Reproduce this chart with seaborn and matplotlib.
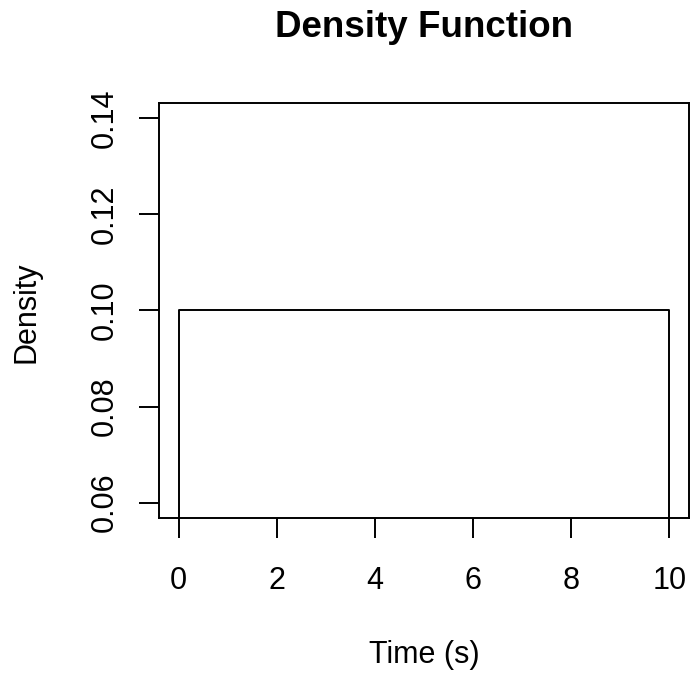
import matplotlib
matplotlib.use('Agg')
import matplotlib.pyplot as plt
import seaborn as sns
import pandas as pd

# Uniform density on [0, 10]
time_s = [0, 0, 10, 10]
density = [0, 0.1, 0.1, 0]
x_ticks = [0, 2, 4, 6, 8, 10]
y_ticks = [0.06, 0.08, 0.10, 0.12, 0.14]

df = pd.DataFrame({'time': time_s, 'density': density})

sns.set_theme(style='white')
plt.rcParams['font.family'] = ['Liberation Sans', 'DejaVu Sans']
plt.rcParams['text.color'] = 'black'
plt.rcParams['axes.labelcolor'] = 'black'
plt.rcParams['xtick.color'] = 'black'
plt.rcParams['ytick.color'] = 'black'

fig = plt.figure(figsize=(6.9, 6.75), dpi=100)
ax = fig.add_axes([159 / 690, 157 / 675, 530 / 690, 415 / 675])

sns.lineplot(data=df, x='time', y='density', sort=False, estimator=None,
             color='black', linewidth=1.4, ax=ax)

ax.set_xlim(-0.4, 10.4)
ax.set_ylim(0.0568, 0.1432)
ax.set_xticks(x_ticks)
ax.set_xticklabels([str(t) for t in x_ticks])
ax.set_yticks(y_ticks)
ax.set_yticklabels([f'{t:.2f}' for t in y_ticks], rotation=90, va='center')

for s in ax.spines.values():
    s.set_color('black')
    s.set_linewidth(1.4)

ax.tick_params(axis='both', direction='out', length=14.4, width=1.4,
               color='black', labelsize=22, labelcolor='black')
ax.tick_params(axis='x', pad=20, bottom=True)
ax.tick_params(axis='y', pad=14, left=True)

ax.set_xlabel('Time (s)', fontsize=22, va='baseline')
ax.xaxis.set_label_coords(0.5, -0.349)
ax.set_ylabel('Density', fontsize=22, va='baseline')
ax.yaxis.set_label_coords(-0.234, 0.495)
ax.set_title('Density Function', fontsize=26.5, fontweight='bold', pad=47.5)

fig.savefig('out.png', dpi=100, facecolor='white')
